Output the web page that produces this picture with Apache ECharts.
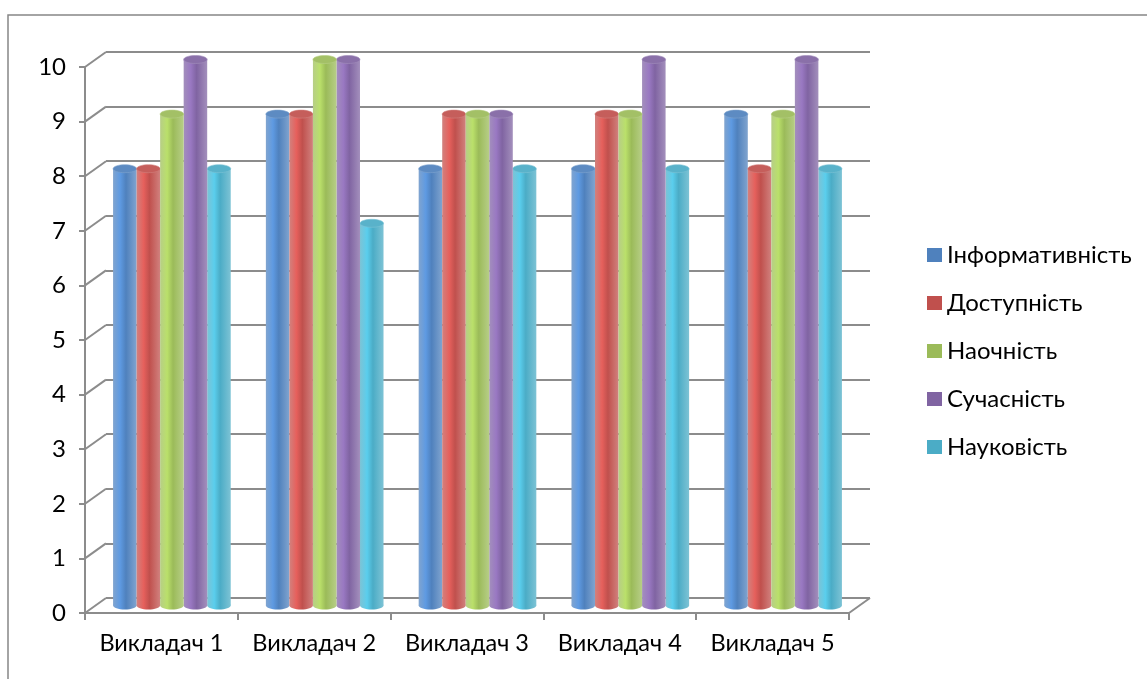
<!DOCTYPE html>
<html>
<head>
<meta charset="utf-8">
<script src="https://cdn.jsdelivr.net/npm/echarts@6/dist/echarts.min.js"></script>
<style>
  html, body { margin: 0; padding: 0; background: #fff; }
  #chart { width: 1147px; height: 679px; }
</style>
</head>
<body>
<div id="chart"></div>
<script>
// data
const teachers = ['Викладач 1', 'Викладач 2', 'Викладач 3', 'Викладач 4', 'Викладач 5'];
const seriesNames = ['Інформативність', 'Доступність', 'Наочність', 'Сучасність', 'Науковість'];
const informativeness = [8, 9, 8, 8, 9];
const accessibility = [8, 9, 9, 9, 8];
const visibility = [9, 10, 9, 9, 9];
const modernity = [10, 10, 9, 10, 10];
const scientific = [8, 7, 8, 8, 8];
const yTicks = [0, 1, 2, 3, 4, 5, 6, 7, 8, 9, 10];

const palette = ['#4f81bd', '#c0504d', '#9bbb59', '#8064a2', '#4bacc6'];
const allValues = [informativeness, accessibility, visibility, modernity, scientific];
const font = 'Lato';
const gridColor = '#8c8c8c';

const chart = echarts.init(document.getElementById('chart'), null, { renderer: 'canvas' });

// back wall offset relative to the front axes
const depthX = 21;
const depthY = -15;

function cylinder(idx) {
    const base = palette[idx];
    const dark = echarts.color.lift(base, 0.28);
    const light = echarts.color.lift(base, -0.2);
    return function (params, api) {
        const top = api.coord([api.value(0), api.value(1)]);
        const bottom = api.coord([api.value(0), 0]);
        const band = api.size([1, 0])[0];
        const w = band * 0.154;
        const cx = top[0] + (idx - 2) * w;
        const ry = 4;
        const body = new echarts.graphic.LinearGradient(0, 0, 1, 0, [
            { offset: 0, color: dark },
            { offset: 0.3, color: light },
            { offset: 0.55, color: base },
            { offset: 1, color: dark }
        ]);
        return {
            type: 'group',
            children: [
                {
                    type: 'ellipse',
                    shape: { cx: cx, cy: bottom[1], rx: w / 2, ry: ry },
                    style: { fill: body }
                },
                {
                    type: 'rect',
                    shape: { x: cx - w / 2, y: top[1], width: w, height: bottom[1] - top[1] },
                    style: { fill: body }
                },
                {
                    type: 'ellipse',
                    shape: { cx: cx, cy: top[1], rx: w / 2, ry: ry },
                    style: { fill: echarts.color.lift(base, 0.08), stroke: dark, lineWidth: 0.6 }
                }
            ]
        };
    };
}

// diagonal lines joining front ticks to the back wall
function connectors(params, api) {
    const p = api.coord([0, api.value(0)]);
    const x0 = params.coordSys.x;
    const children = [{
        type: 'line',
        shape: { x1: x0, y1: p[1], x2: x0 + depthX, y2: p[1] + depthY },
        style: { stroke: gridColor, lineWidth: 2 }
    }];
    if (api.value(0) === 0) {
        const x1 = x0 + params.coordSys.width;
        children.push({
            type: 'line',
            shape: { x1: x1, y1: p[1], x2: x1 + depthX, y2: p[1] + depthY },
            style: { stroke: gridColor, lineWidth: 2 }
        });
    }
    return { type: 'group', children: children };
}

const hiddenCat = { type: 'category', data: teachers, show: false };
const hiddenVal = { type: 'value', min: 0, max: 10, interval: 1, show: false };

const series = allValues.map((vals, i) => ({
    name: seriesNames[i],
    type: 'custom',
    xAxisIndex: 2,
    yAxisIndex: 2,
    renderItem: cylinder(i),
    itemStyle: { color: palette[i] },
    data: vals.map((v, j) => [j, v]),
    z: 10 - Math.abs(i - 2)
}));

series.push({
    type: 'custom',
    xAxisIndex: 1,
    yAxisIndex: 1,
    renderItem: connectors,
    data: yTicks.map(v => [v]),
    silent: true,
    z: 1
});

const option = {
    backgroundColor: '#fff',
    animation: false,
    graphic: [{
        type: 'rect',
        shape: { x: 8, y: 15, width: 1300, height: 800 },
        style: { fill: 'none', stroke: '#878787', lineWidth: 1.5 },
        silent: true
    }],
    legend: {
        orient: 'vertical',
        left: 922,
        top: 238,
        itemWidth: 15,
        itemHeight: 14,
        itemGap: 24,
        icon: 'rect',
        data: seriesNames,
        textStyle: { fontFamily: font, fontSize: 24, color: '#000', lineHeight: 24 }
    },
    grid: [
        // back wall
        { left: 85 + depthX, top: 67 + depthY, width: 764, height: 546 },
        // front axes
        { left: 85, top: 67, width: 764, height: 546 },
        // bars, halfway in depth
        { left: 85 + depthX / 2, top: 67 + depthY / 2, width: 764, height: 546 }
    ],
    xAxis: [
        hiddenCat,
        {
            gridIndex: 1,
            type: 'category',
            data: teachers,
            axisLine: { lineStyle: { color: gridColor, width: 2 } },
            axisTick: { show: true, length: 7, lineStyle: { color: gridColor, width: 2 } },
            axisLabel: { interval: 0, fontFamily: font, fontSize: 23.5, color: '#000', margin: 18 }
        },
        Object.assign({ gridIndex: 2 }, hiddenCat)
    ],
    yAxis: [
        {
            type: 'value', min: 0, max: 10, interval: 1,
            axisLine: { show: false },
            axisTick: { show: false },
            axisLabel: { show: false },
            splitLine: { show: true, lineStyle: { color: gridColor, width: 2 } }
        },
        {
            gridIndex: 1,
            type: 'value', min: 0, max: 10, interval: 1,
            axisLine: { show: true, lineStyle: { color: gridColor, width: 2 } },
            axisTick: { show: true, length: 6, lineStyle: { color: gridColor, width: 2 } },
            axisLabel: { fontFamily: font, fontSize: 24, color: '#000', margin: 19 },
            splitLine: { show: false }
        },
        Object.assign({ gridIndex: 2 }, hiddenVal)
    ],
    series: series
};

chart.setOption(option);
</script>
</body>
</html>
